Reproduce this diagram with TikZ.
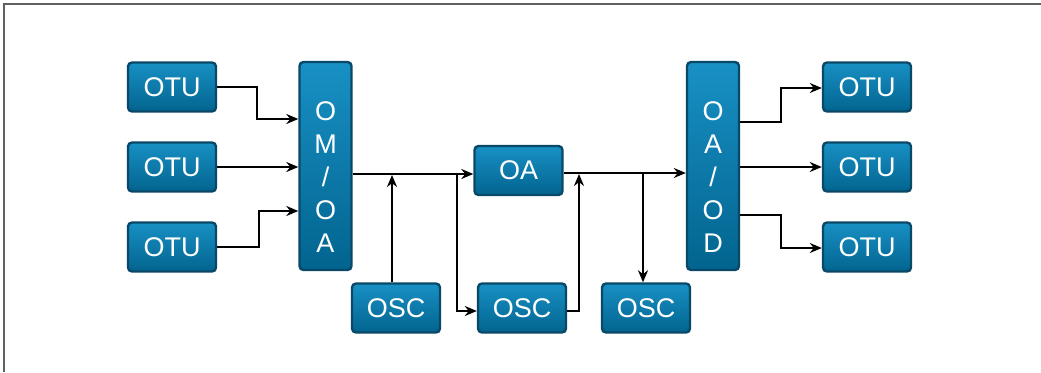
\documentclass[tikz,border=0pt]{standalone}
\usepackage{fontspec}
\setmainfont{Liberation Sans}
\usetikzlibrary{arrows.meta}
\definecolor{boxtop}{HTML}{1890C4}
\definecolor{boxbot}{HTML}{02648F}
\definecolor{boxedge}{HTML}{0A4868}
\begin{document}
\begin{tikzpicture}[x=1pt,y=-1pt,
  box/.style={draw=boxedge, line width=2.4pt, rounded corners=4pt,
    top color=boxtop, bottom color=boxbot, text=white,
    font=\fontsize{27}{33}\selectfont, inner sep=0pt, align=center},
  wide/.style={box, minimum width=88pt, minimum height=49pt},
  tall/.style={box, minimum width=52pt, minimum height=208pt},
  conn/.style={line width=2.8pt, -{Stealth[length=12pt,width=10pt]}}]
\useasboundingbox (0,0) rectangle (1041,372);
\draw[gray!75!black, line width=1.5pt] (4,372) -- (4,4) -- (1041,4);

\node[wide] (l1) at (172,87) {OTU};
\node[wide] (l2) at (172,167) {OTU};
\node[wide] (l3) at (172,247) {OTU};
\node[tall] (omoa) at (325.5,166) {};
\node[text=white, font=\fontsize{27}{33}\selectfont, align=center] (omoat) at (325.5,177) {O\\M\\/\\O\\A};
\node[wide] (oa) at (518.5,170.5) {OA};
\node[wide] (osc1) at (396,308) {OSC};
\node[wide] (osc2) at (522,308) {OSC};
\node[wide] (osc3) at (646,308) {OSC};
\node[tall] (oaod) at (713,166) {};
\node[text=white, font=\fontsize{27}{33}\selectfont, align=center] (oaodt) at (713,177) {O\\A\\/\\O\\D};
\node[wide] (r1) at (867,87) {OTU};
\node[wide] (r2) at (867,167) {OTU};
\node[wide] (r3) at (867,247) {OTU};

\draw[conn] (l1.east) -| (257,119) -- (omoa.west |- 0,119);
\draw[conn] (l2.east) -- (omoa.west |- l2.east);
\draw[conn] (l3.east) -| (259,211) -- (omoa.west |- 0,211);

\draw[conn] (omoa.east |- 0,174) -- (oa.west |- 0,174);
\draw[conn] ([xshift=-4pt]osc1.north) -- ([xshift=-4pt]osc1.north |- 0,175);
\draw[conn] (457,174) |- ([yshift=-3pt]osc2.west);
\draw[conn] ([yshift=-3pt]osc2.east) -| (579,174);

\draw[conn] (oa.east |- 0,173) -- (oaod.west |- 0,173);
\draw[conn] (643,173) -- ([xshift=-3pt]osc3.north);

\draw[conn] (oaod.east |- 0,122) -| (781,88) -- (r1.west |- 0,88);
\draw[conn] (oaod.east |- r2.west) -- (r2.west);
\draw[conn] (oaod.east |- 0,215) -| (781,248) -- (r3.west |- 0,248);
\end{tikzpicture}
\end{document}
